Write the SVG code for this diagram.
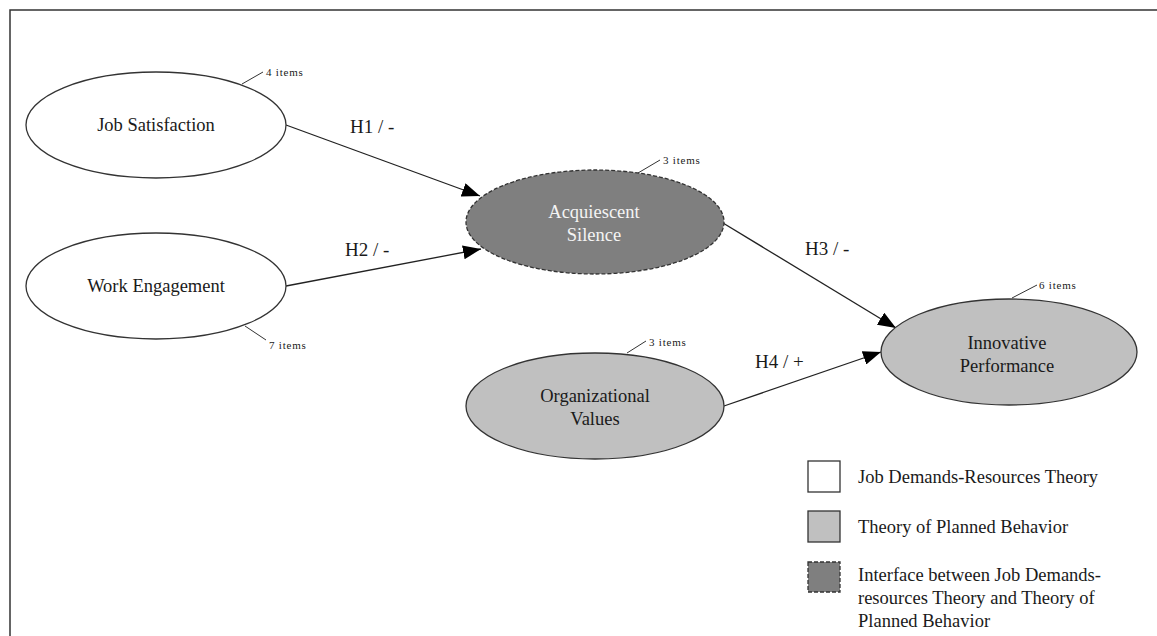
<svg xmlns="http://www.w3.org/2000/svg" width="1157" height="636" viewBox="0 0 1157 636">
<defs>
<style>
.node{stroke:#333;stroke-width:1.3}
.white{fill:#fff}
.light{fill:#c0c0c0}
.dark{fill:#7f7f7f;stroke-dasharray:4 2}
.t{font-family:"Liberation Serif","Times New Roman",serif;font-size:18.5px;fill:#1a1a1a;text-anchor:middle}
.tw{fill:#f4f4f4}
.h{font-family:"Liberation Serif","Times New Roman",serif;font-size:19px;fill:#1a1a1a}
.it{font-family:"Liberation Serif","Times New Roman",serif;font-size:11px;letter-spacing:0.8px;fill:#1a1a1a}
.lead{stroke:#333;stroke-width:1;fill:none}
.conn{stroke:#222;stroke-width:1.3;fill:none;marker-end:url(#arr)}
.lg{font-family:"Liberation Serif","Times New Roman",serif;font-size:18.5px;fill:#1a1a1a}
</style>
<marker id="arr" markerUnits="userSpaceOnUse" markerWidth="18" markerHeight="14" refX="18" refY="7" orient="auto">
<path d="M0,0 L18,7 L0,14 Z" fill="#000"/>
</marker>
</defs>
<rect x="0" y="0" width="1157" height="636" fill="#fff"/>
<rect x="10" y="10" width="1170" height="660" fill="none" stroke="#333" stroke-width="1.5"/>

<g id="connectors">
<line class="conn" x1="286" y1="125" x2="480" y2="196"/>
<line class="conn" x1="286" y1="286" x2="481" y2="249"/>
<line class="conn" x1="723" y1="223" x2="896" y2="328"/>
<line class="conn" x1="724" y1="406" x2="881" y2="352"/>
<text class="h" x="350" y="133">H1 / -</text>
<text class="h" x="345" y="256">H2 / -</text>
<text class="h" x="805" y="255">H3 / -</text>
<text class="h" x="755" y="368">H4 / +</text>
</g>

<g id="job-satisfaction">
<ellipse class="node white" cx="156" cy="125" rx="130" ry="53"/>
<text class="t" x="156" y="131">Job Satisfaction</text>
<line class="lead" x1="242" y1="84" x2="263" y2="72"/>
<text class="it" x="266" y="76">4 items</text>
</g>

<g id="work-engagement">
<ellipse class="node white" cx="156" cy="286" rx="130" ry="53"/>
<text class="t" x="156" y="292">Work Engagement</text>
<line class="lead" x1="245" y1="326" x2="266" y2="340"/>
<text class="it" x="269" y="349">7 items</text>
</g>

<g id="acquiescent-silence">
<ellipse class="node dark" cx="595" cy="222" rx="129" ry="52"/>
<text class="t tw" x="594" y="218">Acquiescent</text>
<text class="t tw" x="594" y="241">Silence</text>
<line class="lead" x1="638" y1="173" x2="660" y2="160"/>
<text class="it" x="663" y="164">3 items</text>
</g>

<g id="organizational-values">
<ellipse class="node light" cx="595" cy="406" rx="129" ry="53"/>
<text class="t" x="595" y="402">Organizational</text>
<text class="t" x="595" y="425">Values</text>
<line class="lead" x1="627" y1="353" x2="646" y2="341"/>
<text class="it" x="649" y="346">3 items</text>
</g>

<g id="innovative-performance">
<ellipse class="node light" cx="1009" cy="352" rx="128" ry="53"/>
<text class="t" x="1007" y="349">Innovative</text>
<text class="t" x="1007" y="372">Performance</text>
<line class="lead" x1="1012" y1="298" x2="1037" y2="285"/>
<text class="it" x="1039" y="289">6 items</text>
</g>

<g id="legend">
<rect class="node white" x="808" y="461" width="32" height="31"/>
<text class="lg" x="858" y="483">Job Demands-Resources Theory</text>
<rect class="node light" x="808" y="511" width="32" height="31"/>
<text class="lg" x="858" y="533">Theory of Planned Behavior</text>
<rect class="node dark" x="808" y="562" width="32" height="30"/>
<text class="lg" x="858" y="581">Interface between Job Demands-</text>
<text class="lg" x="858" y="604">resources Theory and Theory of</text>
<text class="lg" x="858" y="627">Planned Behavior</text>
</g>
</svg>
